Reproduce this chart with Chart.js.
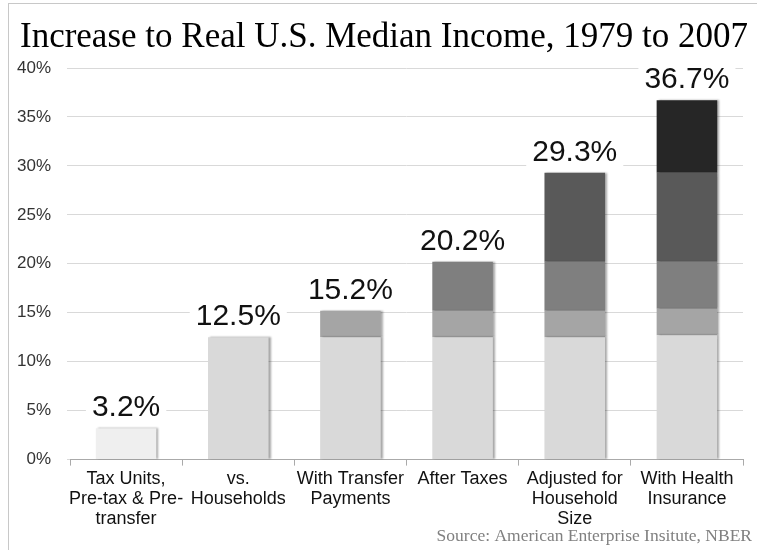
<!DOCTYPE html>
<html>
<head>
<meta charset="utf-8">
<script src="https://cdn.jsdelivr.net/npm/chart.js@4.4.1/dist/chart.umd.min.js"></script>
<style>
  html, body { margin: 0; padding: 0; background: #fff; }
  #wrap { position: relative; width: 757px; height: 550px; }
  #frame { position: absolute; left: 8px; top: 3px; right: 0; bottom: 0;
           border-left: 1px solid #c8c8c8; border-top: 1px solid #c8c8c8; }
  canvas { position: absolute; left: 0; top: 0; }
</style>
</head>
<body>
<div id="wrap">
  <div id="frame"></div>
  <canvas id="income-chart" width="757" height="550"></canvas>
</div>
<script>
// categories (multi-line labels)
const categories = [
    ['Tax Units,', 'Pre-tax & Pre-', 'transfer'],
    ['vs.', 'Households'],
    ['With Transfer', 'Payments'],
    ['After Taxes'],
    ['Adjusted for', 'Household', 'Size'],
    ['With Health', 'Insurance']
];

// stacked pieces, percent
const baseIncome   = [3.2, 12.5, 12.5, 12.5, 12.5, 12.7];
const transfers    = [null, null, 2.7, 2.7, 2.7, 2.7];
const afterTaxes   = [null, null, null, 5.0, 5.0, 4.8];
const householdAdj = [null, null, null, null, 9.1, 9.1];
const healthIns    = [null, null, null, null, null, 7.4];

// totals shown above bars
const totals = [3.2, 12.5, 15.2, 20.2, 29.3, 36.7];

const yTicks = [0, 5, 10, 15, 20, 25, 30, 35, 40];

const titleText = 'Increase to Real U.S. Median Income, 1979 to 2007';
const sourceText = 'Source: American Enterprise Insitute, NBER';

// shadow on the right side of the bars
const barShadow = {
    id: 'barShadow',
    beforeDatasetsDraw(chart) {
        const ctx = chart.ctx;
        ctx.save();
        ctx.shadowColor = 'rgba(0,0,0,0.35)';
        ctx.shadowOffsetX = 2;
        ctx.shadowOffsetY = 0;
        ctx.shadowBlur = 2;
    },
    afterDatasetsDraw(chart) {
        chart.ctx.restore();
    }
};

// total labels with white box behind them
const totalLabels = {
    id: 'totalLabels',
    afterDatasetsDraw(chart) {
        const ctx = chart.ctx;
        const x = chart.scales.x;
        const y = chart.scales.y;
        ctx.save();
        ctx.font = '30px Arial, "Liberation Sans", sans-serif';
        ctx.textAlign = 'center';
        ctx.textBaseline = 'alphabetic';
        totals.forEach((t, i) => {
            const cx = x.getPixelForValue(i);
            const base = y.getPixelForValue(t) - 12;
            const txt = t.toFixed(1) + '%';
            const w = ctx.measureText(txt).width;
            ctx.fillStyle = '#fff';
            ctx.fillRect(cx - w / 2 - 6, base - 26, w + 12, 32);
            ctx.fillStyle = '#111';
            ctx.fillText(txt, cx, base);
        });
        ctx.restore();
    }
};

// title on top and source note at the bottom right
const headerFooter = {
    id: 'headerFooter',
    afterDraw(chart) {
        const ctx = chart.ctx;
        ctx.save();
        ctx.textBaseline = 'alphabetic';
        ctx.font = '35px "Liberation Serif", "Times New Roman", serif';
        ctx.fillStyle = '#000';
        ctx.textAlign = 'center';
        ctx.fillText(titleText, 384, 47);
        ctx.font = '17.5px "Liberation Serif", "Times New Roman", serif';
        ctx.fillStyle = '#808080';
        ctx.textAlign = 'right';
        ctx.fillText(sourceText, 752, 541);
        ctx.restore();
    }
};

const ctx = document.getElementById('income-chart').getContext('2d');

new Chart(ctx, {
    type: 'bar',
    data: {
        labels: categories,
        datasets: [
            { label: 'Base', data: baseIncome,
              backgroundColor: ['#efefef', '#d9d9d9', '#d9d9d9', '#d9d9d9', '#d9d9d9', '#d9d9d9'] },
            { label: 'Transfers', data: transfers, backgroundColor: '#a5a5a5' },
            { label: 'Taxes', data: afterTaxes, backgroundColor: '#7f7f7f' },
            { label: 'Household', data: householdAdj, backgroundColor: '#595959' },
            { label: 'Health', data: healthIns, backgroundColor: '#262626' }
        ]
    },
    options: {
        responsive: false,
        animation: false,
        devicePixelRatio: 1,
        layout: { padding: { left: 1, right: 14, top: 68, bottom: 17 } },
        datasets: {
            bar: { categoryPercentage: 1.0, barPercentage: 0.54, borderWidth: 0 }
        },
        plugins: {
            legend: { display: false },
            tooltip: { enabled: false },
            title: { display: false }
        },
        scales: {
            x: {
                stacked: true,
                grid: { offset: true, drawOnChartArea: false, drawTicks: true, tickLength: 6, color: '#aaa' },
                border: { color: '#aaa' },
                ticks: {
                    color: '#111',
                    font: { family: 'Arial, "Liberation Sans", sans-serif', size: 18, lineHeight: 1.1 },
                    maxRotation: 0,
                    autoSkip: false,
                    padding: 4
                }
            },
            y: {
                stacked: true,
                min: 0,
                max: 40,
                afterBuildTicks(axis) { axis.ticks = yTicks.map(v => ({ value: v })); },
                grid: { color: '#d9d9d9', drawTicks: true, tickLength: 3 },
                border: { display: false },
                ticks: {
                    color: '#333',
                    font: { family: 'Arial, "Liberation Sans", sans-serif', size: 17 },
                    padding: 16,
                    callback: v => v + '%'
                }
            }
        }
    },
    plugins: [barShadow, totalLabels, headerFooter]
});
</script>
</body>
</html>
